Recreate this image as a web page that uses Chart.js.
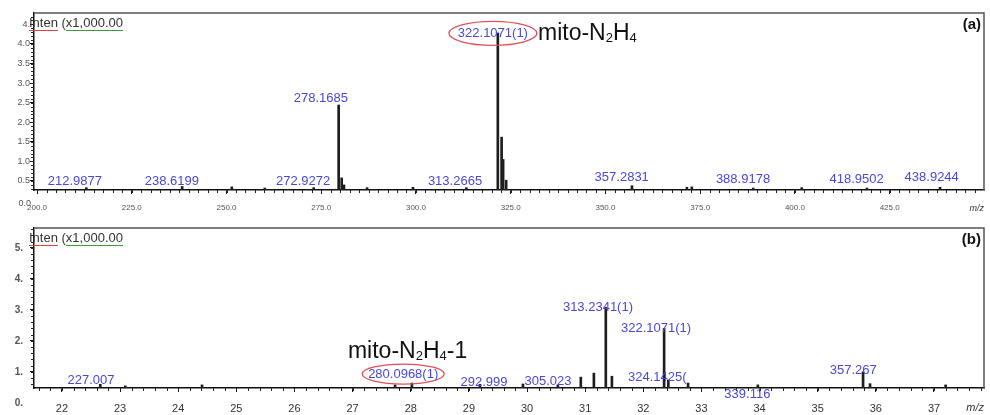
<!DOCTYPE html>
<html>
<head>
<meta charset="utf-8">
<script src="https://cdn.jsdelivr.net/npm/chart.js@4.4.1/dist/chart.umd.min.js"></script>
<style>
  body { margin: 0; background: #fff; }
  #wrap { position: relative; width: 990px; height: 415px; }
  canvas { position: absolute; left: 0; }
</style>
</head>
<body>
<div id="wrap">
  <canvas id="specA" width="990" height="215" style="top:0"></canvas>
  <canvas id="specB" width="990" height="200" style="top:215px"></canvas>
</div>
<script>
// ---- data (intensity in x1,000) ----
// panel (a)
const topMz  = [213.0, 238.3, 251.4, 260.1, 273.0, 279.6, 280.4, 281.0, 287.1, 299.2, 313.3,
                321.6, 322.6, 323.0, 323.8, 357.0, 371.5, 372.8, 389.0, 401.8, 419.0, 438.3];
const topInt = [0.33, 0.36, 0.35, 0.32, 0.33, 2.44, 0.58, 0.40, 0.33, 0.34, 0.33,
                4.28, 1.62, 1.05, 0.52, 0.38, 0.34, 0.35, 0.32, 0.33, 0.32, 0.34];
const topXTicks  = [200, 225, 250, 275, 300, 325, 350, 375, 400, 425];
const topXLabels = ['200.0', '225.0', '250.0', '275.0', '300.0', '325.0', '350.0', '375.0', '400.0', '425.0'];
const topYTicks  = [0.5, 1.0, 1.5, 2.0, 2.5, 3.0, 3.5, 4.0, 4.5];
const topYLabels = ['0.5', '1.0', '1.5', '2.0', '2.5', '3.0', '3.5', '4.0', '4.'];
const topPeakText = ['212.9877', '238.6199', '272.9272', '278.1685', '313.2665', '322.1071(1)',
                     '357.2831', '388.9178', '418.9502', '438.9244'];
const topPeakX    = [210.0, 235.6, 270.2, 274.9, 310.3, 320.3, 354.3, 386.3, 416.3, 436.1];
const topPeakY    = [0.50, 0.50, 0.50, 2.62, 0.50, 4.27, 0.60, 0.55, 0.55, 0.60];

// panel (b)
const botMz  = [226.6, 230.9, 244.1, 277.3, 280.2, 291.9, 299.3, 305.3, 309.25, 311.5, 313.55,
                314.6, 323.58, 324.3, 327.7, 339.7, 357.8, 359.0, 372.0];
const botInt = [0.60, 0.55, 0.58, 0.58, 0.64, 0.60, 0.61, 0.58, 0.83, 0.96, 3.08,
                0.86, 2.40, 0.74, 0.64, 0.58, 1.00, 0.62, 0.58];
const botXTicks  = [220, 230, 240, 250, 260, 270, 280, 290, 300, 310, 320, 330, 340, 350, 360, 370];
const botXLabels = ['22', '23', '24', '25', '26', '27', '28', '29', '30', '31', '32', '33', '34', '35', '36', '37'];
const botYTicks  = [1, 2, 3, 4, 5];
const botYLabels = ['1.', '2.', '3.', '4.', '5.'];
const botPeakText = ['227.007', '280.0968(1)', '292.999', '305.023', '313.2341(1)', '322.1071(1)',
                     '324.1425(', '339.116', '357.267'];
const botPeakX    = [225.0, 278.7, 292.6, 303.6, 312.2, 322.2, 322.4, 337.9, 356.1];
const botPeakY    = [0.74, 0.93, 0.67, 0.70, 3.08, 2.40, 0.83, 0.26, 1.06];

const FONT = '"Liberation Sans", Arial, sans-serif';

// draws frame, minor ticks, peak labels and text notes
function decorPlugin(cfg) {
  return {
    id: 'decor',
    afterDatasetsDraw(chart) {
      const ctx = chart.ctx, a = chart.chartArea;
      const xs = chart.scales.x, ys = chart.scales.y;
      ctx.save();

      // frame top + right
      ctx.strokeStyle = '#555';
      ctx.lineWidth = 1.5;
      ctx.beginPath();
      ctx.moveTo(a.left, a.top);
      ctx.lineTo(a.right, a.top);
      ctx.lineTo(a.right, a.bottom);
      ctx.stroke();

      // minor ticks
      ctx.strokeStyle = '#222';
      ctx.lineWidth = 1;
      ctx.beginPath();
      for (let i = 0; ; i++) {
        const v = cfg.xMinorStart + i * cfg.xMinor;
        if (v > xs.max) break;
        const px = Math.round(xs.getPixelForValue(v)) + 0.5;
        ctx.moveTo(px, a.bottom);
        ctx.lineTo(px, a.bottom + 3);
      }
      for (let i = 0; ; i++) {
        const v = cfg.yMinorStart + i * cfg.yMinor;
        if (v > ys.max) break;
        const py = Math.round(ys.getPixelForValue(v)) + 0.5;
        ctx.moveTo(a.left - 3, py);
        ctx.lineTo(a.left, py);
      }
      ctx.stroke();

      // peak labels
      ctx.fillStyle = '#4848d8';
      ctx.font = cfg.labelFont;
      ctx.textAlign = 'center';
      ctx.textBaseline = 'middle';
      cfg.text.forEach((t, i) => {
        ctx.fillText(t, xs.getPixelForValue(cfg.lx[i]), ys.getPixelForValue(cfg.ly[i]));
      });

      // red ring round one label
      const r = cfg.ring;
      ctx.strokeStyle = '#e0505a';
      ctx.lineWidth = 1.3;
      ctx.beginPath();
      ctx.ellipse(xs.getPixelForValue(cfg.lx[r.idx]), ys.getPixelForValue(cfg.ly[r.idx]),
                  r.rx, r.ry, 0, 0, Math.PI * 2);
      ctx.stroke();

      // compound name with subscripts
      let fx = xs.getPixelForValue(cfg.formula.x);
      const fy = ys.getPixelForValue(cfg.formula.y);
      const size = cfg.formula.size;
      ctx.fillStyle = '#111';
      ctx.textAlign = 'left';
      ctx.textBaseline = 'alphabetic';
      cfg.formula.parts.forEach(([t, sub]) => {
        ctx.font = (sub ? Math.round(size * 0.55) : size) + 'px ' + FONT;
        ctx.fillText(t, fx, fy + (sub ? 2 : 0));
        fx += ctx.measureText(t).width;
      });

      // "Inten (x1,000.00" header with coloured underlines
      ctx.font = '13px ' + FONT;
      ctx.fillStyle = '#333';
      ctx.textBaseline = 'alphabetic';
      const hx = a.left - 5, hy = a.top + 14;
      ctx.fillText('Inten (x1,000.00', hx, hy);
      const w1 = ctx.measureText('Inten').width;
      const w2 = ctx.measureText('Inten (').width;
      const w3 = ctx.measureText('Inten (x1,000.00').width;
      ctx.lineWidth = 1;
      ctx.strokeStyle = '#e04040';
      ctx.beginPath(); ctx.moveTo(hx, hy + 3.5); ctx.lineTo(hx + w1, hy + 3.5); ctx.stroke();
      ctx.strokeStyle = '#3a9a3a';
      ctx.beginPath(); ctx.moveTo(hx + w2, hy + 3.5); ctx.lineTo(hx + w3, hy + 3.5); ctx.stroke();

      // panel tag
      ctx.font = 'bold 15px ' + FONT;
      ctx.fillStyle = '#111';
      ctx.textAlign = 'right';
      ctx.textBaseline = 'middle';
      ctx.fillText(cfg.tag, a.right - 3, a.top + 12);

      // m/z
      ctx.font = 'italic ' + cfg.mzSize + 'px ' + FONT;
      ctx.fillStyle = '#333';
      ctx.fillText('m/z', a.right, cfg.mzY);

      // zero label under the axis
      ctx.font = cfg.yFont;
      ctx.fillStyle = '#555';
      ctx.textAlign = 'right';
      ctx.fillText(cfg.zeroText, cfg.zeroX, ys.getPixelForValue(0) + cfg.zeroDy);

      ctx.restore();
    }
  };
}

function spectrum(id, mz, inten, s) {
  new Chart(document.getElementById(id), {
    type: 'bar',
    data: {
      datasets: [{
        data: mz.map((m, i) => ({ x: m, y: inten[i] })),
        base: s.yMin,
        backgroundColor: '#1e1e1e',
        borderWidth: 0,
        barThickness: 2
      }]
    },
    options: {
      responsive: false,
      animation: false,
      layout: { padding: { top: s.padTop, right: 6, left: 0, bottom: 0 } },
      plugins: { legend: { display: false }, tooltip: { enabled: false } },
      scales: {
        x: {
          type: 'linear',
          min: s.xMin,
          max: s.xMax,
          offset: false,
          afterFit(sc) { sc.height = s.xHeight; },
          afterBuildTicks(sc) { sc.ticks = s.xTicks.map(v => ({ value: v })); },
          ticks: {
            autoSkip: false,
            maxRotation: 0,
            padding: s.xPad,
            color: s.xColor,
            font: { family: FONT, size: s.xSize },
            callback: (v) => s.xLabels[s.xTicks.indexOf(v)]
          },
          grid: { drawOnChartArea: false, offset: false, tickLength: 4, color: '#111' },
          border: { color: '#111', width: 1.5 }
        },
        y: {
          min: s.yMin,
          max: s.yMax,
          afterFit(sc) { sc.width = 34; },
          afterBuildTicks(sc) { sc.ticks = s.yTicks.map(v => ({ value: v })); },
          ticks: {
            padding: s.yPad,
            color: '#555',
            font: s.yFontObj,
            callback: (v) => s.yLabels[s.yTicks.indexOf(v)]
          },
          grid: { drawOnChartArea: false, tickLength: 4, color: '#111' },
          border: { color: '#111', width: 1.5 }
        }
      }
    },
    plugins: [decorPlugin(s.decor)]
  });
}

spectrum('specA', topMz, topInt, {
  xMin: 199.2, xMax: 449.9, yMin: 0.27, yMax: 4.79,
  padTop: 13, xHeight: 25, xPad: 9, xSize: 8, xColor: '#555',
  xTicks: topXTicks, xLabels: topXLabels,
  yTicks: topYTicks, yLabels: topYLabels, yPad: 0,
  yFontObj: { family: FONT, size: 9 },
  decor: {
    xMinorStart: 200, xMinor: 2.5, yMinorStart: 0.3, yMinor: 0.1,
    text: topPeakText, lx: topPeakX, ly: topPeakY,
    labelFont: '13px ' + FONT,
    ring: { idx: 5, rx: 44, ry: 12 },
    formula: { x: 332.2, y: 4.10, size: 23, parts: [['mito-N', 0], ['2', 1], ['H', 0], ['4', 1]] },
    tag: '(a)', mzSize: 9, mzY: 208,
    yFont: '9px ' + FONT, zeroText: '0.0', zeroX: 31, zeroDy: 3
  }
});

spectrum('specB', botMz, botInt, {
  xMin: 215.2, xMax: 378.6, yMin: 0.48, yMax: 5.64,
  padTop: 12, xHeight: 27, xPad: 10, xSize: 11, xColor: '#333',
  xTicks: botXTicks, xLabels: botXLabels,
  yTicks: botYTicks, yLabels: botYLabels, yPad: 7,
  yFontObj: { family: FONT, size: 10, weight: 'bold' },
  decor: {
    xMinorStart: 216, xMinor: 2, yMinorStart: 0.6, yMinor: 0.2,
    text: botPeakText, lx: botPeakX, ly: botPeakY,
    labelFont: '13px ' + FONT,
    ring: { idx: 1, rx: 41, ry: 10 },
    formula: { x: 269.2, y: 1.44, size: 23, parts: [['mito-N', 0], ['2', 1], ['H', 0], ['4', 1], ['-1', 0]] },
    tag: '(b)', mzSize: 11, mzY: 193,
    yFont: 'bold 10px ' + FONT, zeroText: '0.', zeroX: 23, zeroDy: 0
  }
});
</script>
</body>
</html>
